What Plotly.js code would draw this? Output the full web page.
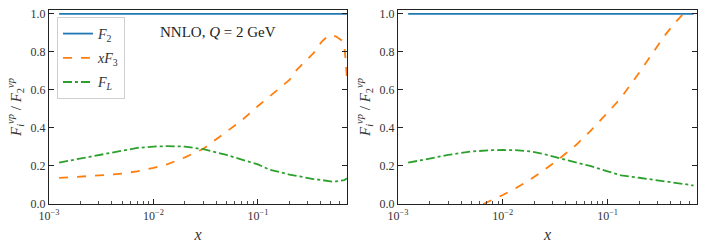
<!DOCTYPE html>
<html>
<head>
<meta charset="utf-8">
<script src="https://cdn.plot.ly/plotly-3.0.1.min.js"></script>
<style>
html,body{margin:0;padding:0;background:#fff;}
#chart{width:706px;height:247px;}
</style>
</head>
<body>
<div id="chart"></div>
<script>
// ---- data ----
const seriesNames = ["F2", "xF3", "FL"];

// left panel (NNLO, Q = 2 GeV)
const xLeft  = [0.00125, 0.002, 0.003, 0.005, 0.007, 0.01, 0.0133, 0.02, 0.03, 0.05, 0.07, 0.1, 0.13, 0.163, 0.2, 0.235, 0.3, 0.34, 0.408, 0.45, 0.51, 0.56, 0.636, 0.67, 0.69, 0.71];
const f2Left  = [1, 1, 1, 1, 1, 1, 1, 1, 1, 1, 1, 1, 1, 1, 1, 1, 1, 1, 1, 1, 1, 1, 1, 1, 1, 1];
const xf3Left = [0.137, 0.143, 0.150, 0.160, 0.172, 0.190, 0.207, 0.245, 0.290, 0.380, 0.440, 0.515, 0.565, 0.609, 0.652, 0.705, 0.762, 0.793, 0.854, 0.875, 0.889, 0.880, 0.859, 0.830, 0.760, 0.660];
const flLeft  = [0.218, 0.240, 0.258, 0.283, 0.295, 0.302, 0.304, 0.302, 0.288, 0.258, 0.232, 0.208, 0.180, 0.165, 0.155, 0.148, 0.135, 0.131, 0.126, 0.122, 0.118, 0.119, 0.122, 0.126, 0.130, 0.135];

// right panel
const xRight  = [0.00125, 0.002, 0.003, 0.005, 0.0065, 0.008, 0.01, 0.013, 0.018, 0.025, 0.035, 0.05, 0.068, 0.1, 0.135, 0.2, 0.294, 0.35, 0.423, 0.5, 0.568, 0.62, 0.66];
const f2Right  = [1, 1, 1, 1, 1, 1, 1, 1, 1, 1, 1, 1, 1, 1, 1, 1, 1, 1, 1, 1, 1, 1, 1];
const xf3Right = [null, null, null, null, 0.0, 0.022, 0.047, 0.080, 0.126, 0.180, 0.240, 0.310, 0.382, 0.480, 0.560, 0.690, 0.828, 0.885, 0.942, 0.985, 1.017, 1.04, 1.06];
const flRight  = [0.217, 0.240, 0.258, 0.276, 0.281, 0.283, 0.284, 0.283, 0.277, 0.262, 0.240, 0.218, 0.200, 0.172, 0.150, 0.138, 0.126, 0.120, 0.114, 0.108, 0.104, 0.100, 0.096];

const xTickVals = [0.001, 0.01, 0.1];
const xTickText = ["10<sup>−3</sup>", "10<sup>−2</sup>", "10<sup>−1</sup>"];
const yTickVals = [0.0, 0.2, 0.4, 0.6, 0.8, 1.0];
const annotationText = "NNLO, <i>Q</i> = 2 GeV";

// ---- styling ----
const colors = ["#1f77b4", "#ff7f0e", "#2ca02c"];
const dashes = ["solid", "dash", "dashdot"];
const legendLabels = ["<i>F</i><sub>2</sub>", "<i>xF</i><sub>3</sub>", "<i>F</i><sub><i>L</i></sub>"];
const serif = "Liberation Serif, DejaVu Serif, serif";

function mk(x, y, i, axis, showLegend) {
  return {
    x: x, y: y, type: "scatter", mode: "lines",
    name: legendLabels[i], legendgroup: seriesNames[i],
    showlegend: showLegend,
    line: {color: colors[i], width: 1.8, dash: dashes[i]},
    xaxis: axis === 1 ? "x" : "x2",
    yaxis: axis === 1 ? "y" : "y2",
    connectgaps: false, hoverinfo: "skip"
  };
}

const traces = [
  mk(xLeft, f2Left, 0, 1, true),
  mk(xLeft, xf3Left, 1, 1, true),
  mk(xLeft, flLeft, 2, 1, true),
  mk(xRight, f2Right, 0, 2, false),
  mk(xRight, xf3Right, 1, 2, false),
  mk(xRight, flRight, 2, 2, false)
];

const xRange = [-3, Math.log10(0.713)];
const yRange = [0, 1.02];

function xax(domain, anchor) {
  return {
    type: "log", domain: domain, anchor: anchor, range: xRange,
    tickvals: xTickVals, ticktext: xTickText,
    ticks: "inside", ticklen: 5, tickwidth: 1, tickcolor: "#222",
    showline: true, linecolor: "#222", linewidth: 1.2, mirror: true,
    showgrid: false, zeroline: false,
    tickfont: {family: serif, size: 12, color: "#333"},
    minor: {ticks: "inside", ticklen: 3, tickwidth: 0.8, tickcolor: "#222", dtick: "D1", showgrid: false},
    title: {text: "<i>x</i>", font: {family: serif, size: 16, color: "#333"}, standoff: 7}
  };
}
function yax(domain, anchor) {
  return {
    domain: domain, anchor: anchor, range: yRange,
    tickvals: yTickVals, tickformat: ".1f",
    ticks: "inside", ticklen: 5, tickwidth: 1, tickcolor: "#222",
    showline: true, linecolor: "#222", linewidth: 1.2, mirror: "ticks",
    showgrid: false, zeroline: false,
    tickfont: {family: serif, size: 12, color: "#333"},
    title: {text: "<i>F</i><sub><i>i</i></sub><sup><i>νp</i></sup> / <i>F</i><sub>2</sub><sup><i>νp</i></sup>", font: {family: serif, size: 15, color: "#333"}, standoff: 5}
  };
}

const layout = {
  width: 706, height: 247,
  margin: {l: 49, r: 9, t: 10, b: 43, pad: 0},
  paper_bgcolor: "#fff", plot_bgcolor: "#fff",
  xaxis: xax([0, 0.46], "y"),
  yaxis: yax([0, 1], "x"),
  xaxis2: xax([0.5386, 1], "y2"),
  yaxis2: yax([0, 1], "x2"),
  showlegend: true,
  legend: {
    x: 0.0123, y: 0.964, xanchor: "left", yanchor: "top",
    bgcolor: "rgba(255,255,255,0.85)", bordercolor: "#d0d0d0", borderwidth: 1,
    font: {family: serif, size: 14, color: "#333"},
    tracegroupgap: 3, itemwidth: 30
  },
  annotations: [{
    text: annotationText, xref: "paper", yref: "paper",
    x: 0.261, y: 0.888, xanchor: "center", yanchor: "middle",
    showarrow: false, font: {family: serif, size: 15, color: "#222"}
  }]
};

Plotly.newPlot("chart", traces, layout, {staticPlot: true, displayModeBar: false});
</script>
</body>
</html>
